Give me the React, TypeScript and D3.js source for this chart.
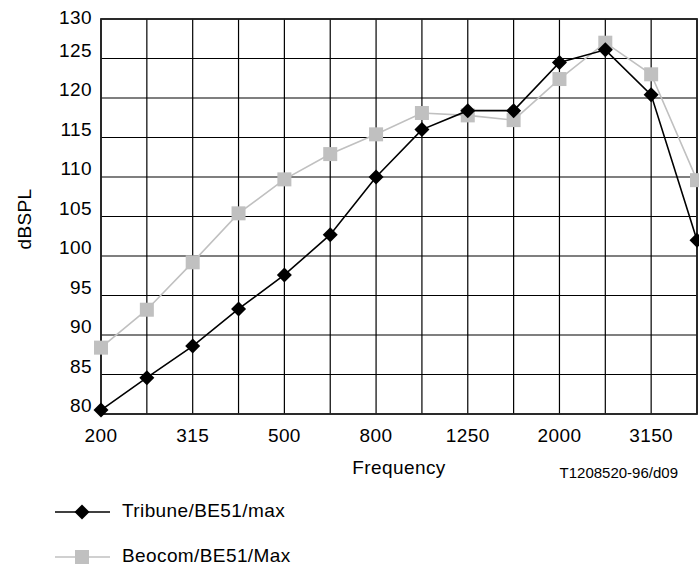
import React from "react";
import * as d3 from "d3";

const categories = ["200", "250", "315", "400", "500", "630", "800", "1000", "1250", "1600", "2000", "2500", "3150", "4000"];
const tickLabels = ["200", "315", "500", "800", "1250", "2000", "3150"];
const tribune = [80.5, 84.6, 88.6, 93.3, 97.6, 102.7, 110.0, 116.0, 118.4, 118.4, 124.5, 126.1, 120.4, 102.0];
const beocom = [88.4, 93.2, 99.2, 105.4, 109.7, 112.9, 115.4, 118.1, 117.8, 117.2, 122.4, 127.0, 123.0, 109.6];
const yTicks = [80, 85, 90, 95, 100, 105, 110, 115, 120, 125, 130];

const W = 699, H = 573;
const left = 101, right = 697, top = 19, bottom = 414;
const font = "'Liberation Sans', Arial, sans-serif";
const fs = 19;
const ls = 0.4;

export default function App() {
  const x = d3.scalePoint<string>().domain(categories).range([left, right]);
  const y = d3.scaleLinear().domain([80, 130]).range([bottom, top]);
  const line = d3.line<number>().x((_, i) => x(categories[i])!).y((d) => y(d));
  const gray = "#c0c0c0";
  const diamond = (cx: number, cy: number, r = 7.5) =>
    `M${cx},${cy - r}L${cx + r},${cy}L${cx},${cy + r}L${cx - r},${cy}Z`;

  return (
    <svg width={W} height={H} style={{ position: "absolute", left: 0, top: 0 }} fontFamily={font}>
      <rect x={0} y={0} width={W} height={H} fill="#fff" />
      {categories.map((c) => (
        <line key={c} x1={x(c)} x2={x(c)} y1={top} y2={bottom} stroke="#000" strokeWidth={1.2} />
      ))}
      {yTicks.map((v) => (
        <line key={v} x1={left} x2={right} y1={y(v)} y2={y(v)} stroke="#000" strokeWidth={1.2} />
      ))}
      <rect x={left} y={top} width={right - left} height={bottom - top} fill="none" stroke="#222" strokeWidth={1.8} />
      {yTicks.map((v) => (
        <text key={v} x={92} y={Math.max(24, y(v) - 2)} textAnchor="end" fontSize={fs} letterSpacing={ls} fill="#000">
          {v}
        </text>
      ))}
      {tickLabels.map((t) => (
        <text key={t} x={x(t)} y={442} textAnchor="middle" fontSize={fs} letterSpacing={ls} fill="#000">
          {t}
        </text>
      ))}
      <text x={399} y={474} textAnchor="middle" fontSize={fs} letterSpacing={ls}>Frequency</text>
      <text x={678} y={478} textAnchor="end" fontSize={15}>T1208520-96/d09</text>
      <text transform={`translate(31,219) rotate(-90)`} textAnchor="middle" fontSize={fs} letterSpacing={ls}>dBSPL</text>

      <path d={line(beocom)!} fill="none" stroke={gray} strokeWidth={1.6} />
      {beocom.map((v, i) => (
        <rect key={i} x={x(categories[i])! - 7} y={y(v) - 7} width={14} height={14} fill={gray} />
      ))}
      <path d={line(tribune)!} fill="none" stroke="#000" strokeWidth={1.6} />
      {tribune.map((v, i) => (
        <path key={i} d={diamond(x(categories[i])!, y(v))} fill="#000" />
      ))}

      <line x1={55} x2={110} y1={512} y2={512} stroke="#000" strokeWidth={1.6} />
      <path d={diamond(82, 512)} fill="#000" />
      <text x={122} y={517} fontSize={fs} letterSpacing={ls}>Tribune/BE51/max</text>
      <line x1={55} x2={110} y1={557} y2={557} stroke={gray} strokeWidth={1.6} />
      <rect x={75} y={550} width={14} height={14} fill={gray} />
      <text x={122} y={562} fontSize={fs} letterSpacing={ls}>Beocom/BE51/Max</text>
    </svg>
  );
}
